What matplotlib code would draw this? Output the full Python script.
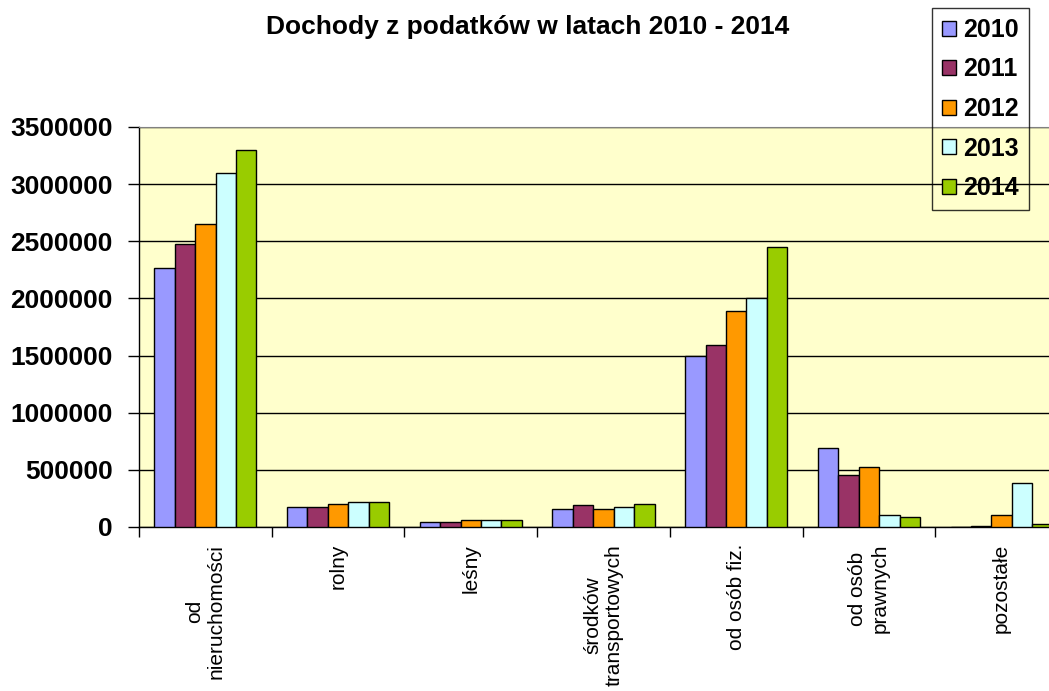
import numpy as np
import matplotlib
matplotlib.use('Agg')
import matplotlib.pyplot as plt
from matplotlib.patches import Patch

plt.rcParams['font.family'] = ['Liberation Sans', 'DejaVu Sans']

# categories and yearly tax revenue values
categories = ['od\nnieruchomości', 'rolny', 'leśny', 'środków\ntransportowych',
              'od osób fiz.', 'od osób\nprawnych', 'pozostałe']
years = ['2010', '2011', '2012', '2013', '2014']
v2010 = [2270000, 171000, 40000, 160000, 1500000, 690000, 0]
v2011 = [2480000, 171000, 40000, 189000, 1590000, 457000, 7000]
v2012 = [2650000, 204000, 58000, 160000, 1888000, 527000, 101000]
v2013 = [3100000, 216000, 58000, 175000, 2004000, 101000, 381000]
v2014 = [3300000, 216000, 58000, 204000, 2450000, 87000, 26000]
series = [v2010, v2011, v2012, v2013, v2014]
colors = ['#9999FF', '#993366', '#FF9900', '#CCFFFF', '#99CC00']

fig = plt.figure(figsize=(10.49, 6.91), dpi=100)
ax = fig.add_axes([139 / 1049, 1 - 527 / 691, 929 / 1049, 400 / 691])
ax.set_facecolor('#FFFFCC')

x = np.arange(len(categories))
w = 0.154
for i, (vals, c) in enumerate(zip(series, colors)):
    ax.bar(x + (i - 2) * w, vals, width=w, color=c, edgecolor='black',
           linewidth=1.0, zorder=3)

ax.set_xlim(-0.5, len(categories) - 0.5)
ax.set_ylim(0, 3500000)
ax.set_yticks(np.arange(0, 3500001, 500000))
ax.set_yticklabels([str(v) for v in range(0, 3500001, 500000)],
                   fontsize=19, fontweight='bold')
ax.yaxis.grid(True, color='black', linewidth=1.0, zorder=0)
ax.tick_params(axis='y', length=8, width=1, pad=11)

# category ticks at the boundaries, labels at the centres
ax.set_xticks(np.arange(-0.5, len(categories), 1.0))
ax.set_xticklabels([])
ax.tick_params(axis='x', length=7, width=1)
for xi, lab in zip(x, categories):
    ax.text(xi, -0.042, lab, transform=ax.get_xaxis_transform(), rotation=90,
            ha='center', va='top', multialignment='center', fontsize=15)

ax.spines['right'].set_visible(False)
ax.spines['top'].set_color('#808080')
ax.spines['left'].set_linewidth(1.0)
ax.spines['bottom'].set_linewidth(1.0)

fig.text(528 / 1049, 1 - 27 / 691, 'Dochody z podatków w latach 2010 - 2014',
         ha='center', va='center', fontsize=19, fontweight='bold')

handles = [Patch(facecolor=c, edgecolor='black', linewidth=1.0) for c in colors]
leg = ax.legend(handles, years, loc='upper left',
                bbox_to_anchor=(932 / 1049, 1 - 8 / 691),
                bbox_transform=fig.transFigure, frameon=True, fancybox=False,
                prop={'size': 18, 'weight': 'bold'}, handlelength=0.55,
                handleheight=0.55, handletextpad=0.3, labelspacing=0.62,
                borderpad=0.4, borderaxespad=0)
leg.get_frame().set_facecolor('none')
leg.get_frame().set_edgecolor('black')
leg.get_frame().set_linewidth(1.0)

fig.savefig('out.png', dpi=100)
